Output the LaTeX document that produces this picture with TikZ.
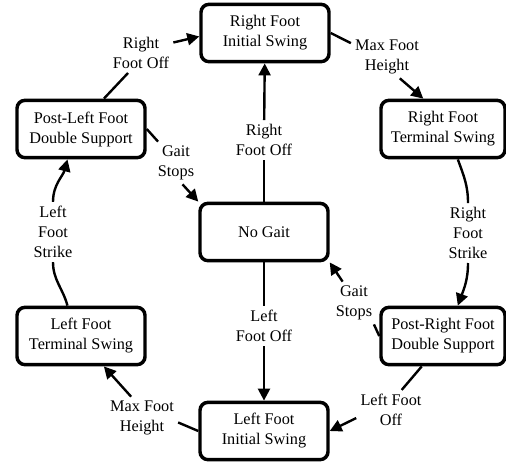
\documentclass[tikz,border=0pt]{standalone}
\usepackage{fontspec}
\setmainfont{Liberation Serif}
\usepackage{tikz}
\usetikzlibrary{arrows.meta}

\tikzset{
  state/.style={draw, line width=2.6pt, rounded corners=6pt, minimum width=96pt, minimum height=43pt, align=center, font=\rmfamily\fontsize{12.2}{15}\selectfont},
  cond/.style={align=center, inner sep=3pt, font=\rmfamily\fontsize{12.2}{15}\selectfont},
  trans/.style={line width=1.8pt},
  transarr/.style={line width=1.8pt, -{Triangle[length=9pt,width=9pt]}}
}

\begin{document}
\begin{tikzpicture}[x=0.75pt,y=0.75pt,yscale=-1,xscale=1]
\useasboundingbox (0,0) rectangle (506,462);

% States
\node [state] (rinit) at (265,33) {Right Foot\\Initial Swing};
\node [state, minimum width=93pt] (rterm) at (443,129) {Right Foot\\Terminal Swing};
\node [state] (pldbl) at (81,129) {Post-Left Foot\\Double Support};
\node [state] (nogait) at (264,232) {No Gait};
\node [state] (lterm) at (81,336) {Left Foot\\Terminal Swing};
\node [state, minimum width=93pt] (prdbl) at (443,336) {Post-Right Foot\\Double Support};
\node [state] (linit) at (264,431) {Left Foot\\Initial Swing};

% Transition labels
\node [cond] (rfoA) at (141,53) {Right\\Foot Off};
\node [cond] (mfhA) at (387,57) {Max Foot\\Height};
\node [cond] (rfs) at (468,233) {Right\\Foot\\Strike};
\node [cond] (lfoA) at (391,410) {Left Foot\\Off};
\node [cond] (mfhB) at (142,418) {Max Foot\\Height};
\node [cond] (lfs) at (53,232) {Left\\Foot\\Strike};
\node [cond] (rfoB) at (264,140) {Right\\Foot Off};
\node [cond] (lfoB) at (264,326) {Left\\Foot Off};
\node [cond] (gsA) at (176,163) {Gait\\Stops};
\node [cond] (gsB) at (354,303) {Gait\\Stops};

% Gait cycle
\draw [trans] (pldbl.53) -- (rfoA.237);
\draw [transarr] (rfoA.18) -- (rinit.183);
\draw [trans] (rinit.east) -- (mfhA.159);
\draw [transarr] (mfhA.-59) -- (rterm.123);
\draw [trans] (rterm.-64) to [out=70,in=-90] (rfs.north);
\draw [transarr] (rfs.south) to [out=90,in=-70] (prdbl.64);
\draw [trans] (prdbl.235) -- (lfoA.62);
\draw [transarr] (lfoA.193) -- (linit.east);
\draw [trans] (linit.west) -- (mfhB.-7);
\draw [transarr] (mfhB.117) -- (lterm.-53);
\draw [trans] (lterm.114) to [out=-105,in=90] (lfs.south);
\draw [transarr] (lfs.north) to [out=-90,in=105] (pldbl.246);

% Start and stop
\draw [trans] (nogait) -- (rfoB);
\draw [transarr] (rfoB) -- (rinit);
\draw [trans] (nogait) -- (lfoB);
\draw [transarr] (lfoB) -- (linit);
\draw [trans] (pldbl.east) -- (gsA.130);
\draw [transarr] (gsA.-73) -- (nogait.north west);
\draw [trans] (prdbl.west) -- (gsB.-47);
\draw [transarr] (gsB.118) -- (nogait.south east);
\end{tikzpicture}
\end{document}
